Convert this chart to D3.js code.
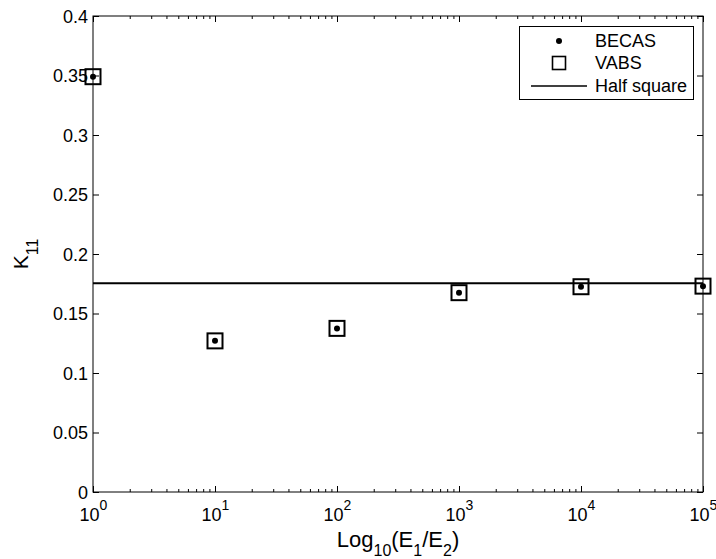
<!DOCTYPE html>
<html>
<head>
<meta charset="utf-8">
<script src="https://cdn.jsdelivr.net/npm/d3@7"></script>
<style>
  html, body { margin: 0; padding: 0; background: #fff; }
  svg { display: block; }
  svg text { font-family: "Liberation Sans", Arial, sans-serif; }
</style>
</head>
<body>
<svg id="chart" width="716" height="559"></svg>
<script>
// Stiffness ratio E1/E2 (x) and shear correction factor K11 (y)
const ratios = [1, 10, 100, 1000, 10000, 100000];
const becas = [0.349, 0.127, 0.1375, 0.1675, 0.1725, 0.173];
const vabs = [0.349, 0.127, 0.1375, 0.1675, 0.1725, 0.173];
const halfSquare = 0.1755;
const yTicks = [0, 0.05, 0.1, 0.15, 0.2, 0.25, 0.3, 0.35, 0.4];
const xDecades = [0, 1, 2, 3, 4, 5];
const legendLabels = ["BECAS", "VABS", "Half square"];

const svg = d3.select("#chart");
const margin = { left: 93, right: 13, top: 16, bottom: 67 };
const W = 716, H = 559;
const x0 = margin.left, x1 = W - margin.right;
const y0 = H - margin.bottom, y1 = margin.top;
const FS = 18;

const x = d3.scaleLog().domain([1, 1e5]).range([x0, x1]);
const y = d3.scaleLinear().domain([0, 0.4]).range([y0, y1]);

const minor = [];
for (let d = 0; d < 5; d++) for (let m = 2; m <= 9; m++) minor.push(m * Math.pow(10, d));
const major = xDecades.map(d => Math.pow(10, d));

function styleAxis(g) {
  g.attr("font-family", "Liberation Sans, Arial, sans-serif").attr("font-size", FS);
  g.select(".domain").remove();
  g.selectAll(".tick line").attr("stroke", "#000").attr("stroke-width", 1);
  g.selectAll(".tick text").attr("fill", "#000").attr("font-size", FS);
}

// Bottom axis: major ticks with power-of-ten labels, then minor ticks
const gxb = svg.append("g").attr("transform", `translate(0,${y0})`)
  .call(d3.axisBottom(x).tickValues(major).tickSize(-6).tickFormat(() => ""));
styleAxis(gxb);
gxb.selectAll(".tick text").each(function(d) {
  const t = d3.select(this);
  t.text(null).attr("y", 29).attr("dy", null);
  t.append("tspan").text("10");
  t.append("tspan").attr("dy", -11).attr("font-size", 14).text(Math.round(Math.log10(d)));
});
const gxbm = svg.append("g").attr("transform", `translate(0,${y0})`)
  .call(d3.axisBottom(x).tickValues(minor).tickSize(-3).tickFormat(() => ""));
styleAxis(gxbm);

// Top axis ticks (box)
const gxt = svg.append("g").attr("transform", `translate(0,${y1})`)
  .call(d3.axisTop(x).tickValues(major).tickSize(-6).tickFormat(() => ""));
styleAxis(gxt);
const gxtm = svg.append("g").attr("transform", `translate(0,${y1})`)
  .call(d3.axisTop(x).tickValues(minor).tickSize(-3).tickFormat(() => ""));
styleAxis(gxtm);

// Left axis with labels
const gyl = svg.append("g").attr("transform", `translate(${x0},0)`)
  .call(d3.axisLeft(y).tickValues(yTicks).tickSize(-6)
    .tickFormat(d => d3.format("")(+d.toFixed(2))));
styleAxis(gyl);
gyl.selectAll(".tick text").attr("x", -5).attr("dy", "0.36em");

// Right axis ticks (box)
const gyr = svg.append("g").attr("transform", `translate(${x1},0)`)
  .call(d3.axisRight(y).tickValues(yTicks).tickSize(-6).tickFormat(() => ""));
styleAxis(gyr);

// Plot box
svg.append("rect").attr("x", x0).attr("y", y1).attr("width", x1 - x0).attr("height", y0 - y1)
  .attr("fill", "none").attr("stroke", "#000").attr("stroke-width", 1);

// Half square reference line
svg.append("line")
  .attr("x1", x(1)).attr("x2", x(1e5))
  .attr("y1", y(halfSquare)).attr("y2", y(halfSquare))
  .attr("stroke", "#000").attr("stroke-width", 2);

// VABS markers (open squares)
const sq = 15;
svg.append("g").selectAll("rect").data(ratios.map((r, i) => [r, vabs[i]])).join("rect")
  .attr("x", d => x(d[0]) - sq / 2).attr("y", d => y(d[1]) - sq / 2)
  .attr("width", sq).attr("height", sq)
  .attr("fill", "none").attr("stroke", "#000").attr("stroke-width", 2);

// BECAS markers (dots)
svg.append("g").selectAll("circle").data(ratios.map((r, i) => [r, becas[i]])).join("circle")
  .attr("cx", d => x(d[0])).attr("cy", d => y(d[1])).attr("r", 3).attr("fill", "#000");

// Legend
const lg = svg.append("g");
lg.append("rect").attr("x", 519.5).attr("y", 26.5).attr("width", 174).attr("height", 73)
  .attr("fill", "#fff").attr("stroke", "#000").attr("stroke-width", 1);
const ly = [41, 63, 86];
const sx = 559;
lg.append("circle").attr("cx", sx).attr("cy", ly[0]).attr("r", 3).attr("fill", "#000");
lg.append("rect").attr("x", sx - 6.5).attr("y", ly[1] - 6.5).attr("width", 13).attr("height", 13)
  .attr("fill", "none").attr("stroke", "#000").attr("stroke-width", 1.6);
lg.append("line").attr("x1", 531).attr("x2", 587).attr("y1", ly[2]).attr("y2", ly[2])
  .attr("stroke", "#000").attr("stroke-width", 1.5);
lg.selectAll("text").data(legendLabels).join("text")
  .attr("x", 595).attr("y", (d, i) => ly[i]).attr("dy", "0.36em")
  .attr("font-size", FS).attr("fill", "#000").text(d => d);

// Axis titles
const xt = svg.append("text").attr("x", (x0 + x1) / 2).attr("y", 547)
  .attr("text-anchor", "middle").attr("font-size", 22).attr("fill", "#000");
xt.append("tspan").text("Log");
xt.append("tspan").attr("dy", 9).attr("font-size", 16).text("10");
xt.append("tspan").attr("dy", -9).text("(E");
xt.append("tspan").attr("dy", 9).attr("font-size", 16).text("1");
xt.append("tspan").attr("dy", -9).text("/E");
xt.append("tspan").attr("dy", 9).attr("font-size", 16).text("2");
xt.append("tspan").attr("dy", -9).text(")");

const yt = svg.append("text")
  .attr("transform", `translate(28,${(y0 + y1) / 2}) rotate(-90)`)
  .attr("text-anchor", "middle").attr("font-size", 21).attr("fill", "#000");
yt.append("tspan").text("K");
yt.append("tspan").attr("dy", 10).attr("font-size", 16).text("11");
</script>
</body>
</html>
